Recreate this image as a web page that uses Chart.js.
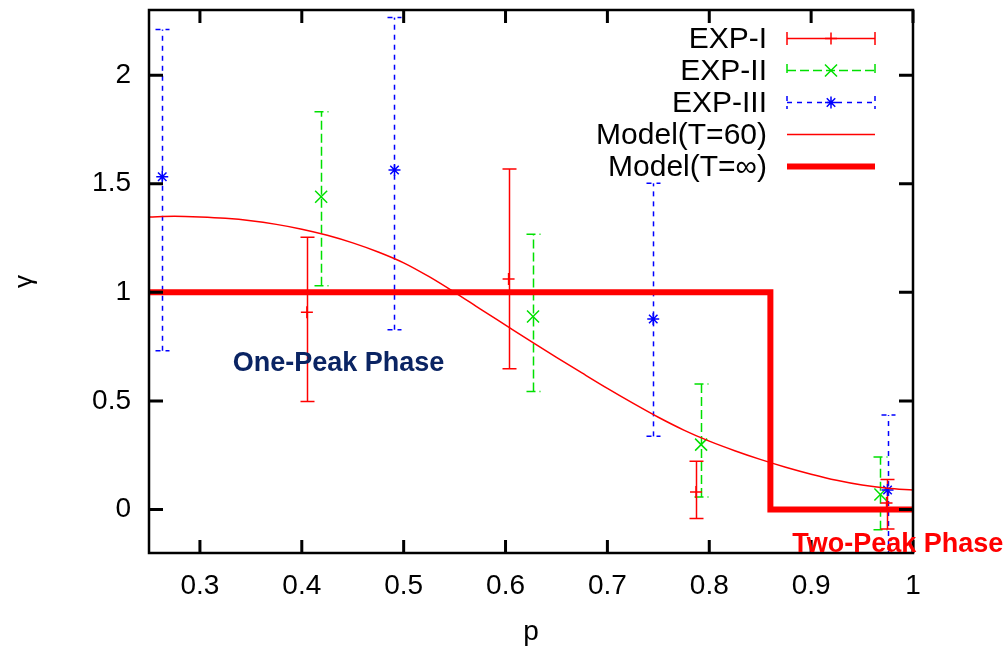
<!DOCTYPE html>
<html><head><meta charset="utf-8">
<script src="https://cdn.jsdelivr.net/npm/chart.js@4.4.0/dist/chart.umd.min.js"></script>
<style>html,body{margin:0;padding:0;background:#fff}#wrap{width:1003px;height:649px;position:relative}</style>
</head><body><div id="wrap"><canvas id="c" width="1003" height="649"></canvas></div>
<script>
// ---- data ----
const xTicks = [0.3, 0.4, 0.5, 0.6, 0.7, 0.8, 0.9, 1];
const yTicks = [0, 0.5, 1, 1.5, 2];

const exp1P  = [0.405, 0.603, 0.787, 0.974];
const exp1Y  = [0.909, 1.061, 0.081, 0.03];
const exp1Lo = [0.497, 0.648, -0.041, -0.09];
const exp1Hi = [1.254, 1.568, 0.222, 0.138];

const exp2P  = [0.419, 0.627, 0.792, 0.968];
const exp2Y  = [1.44, 0.889, 0.299, 0.069];
const exp2Lo = [1.03, 0.544, 0.058, -0.093];
const exp2Hi = [1.831, 1.268, 0.578, 0.242];

const exp3P  = [0.263, 0.491, 0.745, 0.975];
const exp3Y  = [1.532, 1.563, 0.877, 0.09];
const exp3Lo = [0.731, 0.828, 0.337, -0.26];
const exp3Hi = [2.21, 2.265, 1.502, 0.435];

const modelP   = [0.25,0.275,0.3,0.325,0.35,0.375,0.4,0.425,0.45,0.475,0.5,0.525,0.55,0.575,0.6,0.625,0.65,0.675,0.7,0.725,0.75,0.775,0.8,0.825,0.85,0.875,0.9,0.925,0.95,0.975,1.0];
const modelT60 = [1.347,1.350,1.347,1.341,1.330,1.313,1.291,1.263,1.228,1.186,1.136,1.072,1.000,0.924,0.849,0.774,0.701,0.629,0.558,0.490,0.425,0.366,0.315,0.271,0.231,0.195,0.163,0.135,0.113,0.098,0.090];

const stepP = [0.25, 0.86, 0.86, 1.0];
const stepY = [1, 1, 0, 0];

const seriesNames = ['EXP-I', 'EXP-II', 'EXP-III', 'Model(T=60)', 'Model(T=\u221E)'];
const phaseLabels = ['One-Peak Phase', 'Two-Peak Phase'];

const RED = '#ff0000', GREEN = '#00e000', BLUE = '#0000ff';
const zip = (a, b) => a.map((v, i) => ({x: v, y: b[i]}));

function drawMarker(ctx, style, x, y, r, color) {
  ctx.save();
  ctx.strokeStyle = color; ctx.lineWidth = 1.5; ctx.setLineDash([]);
  ctx.beginPath();
  if (style === 'cross' || style === 'star') {
    ctx.moveTo(x - r, y); ctx.lineTo(x + r, y);
    ctx.moveTo(x, y - r); ctx.lineTo(x, y + r);
  }
  if (style === 'crossRot' || style === 'star') {
    const d = r * Math.SQRT1_2;
    ctx.moveTo(x - d, y - d); ctx.lineTo(x + d, y + d);
    ctx.moveTo(x - d, y + d); ctx.lineTo(x + d, y - d);
  }
  ctx.stroke();
  ctx.restore();
}

const errorBarPlugin = {
  id: 'errorBars',
  beforeDatasetsDraw(chart) {
    const {ctx, chartArea: a, scales: {x, y}} = chart;
    ctx.save();
    ctx.beginPath(); ctx.rect(a.left, a.top, a.right - a.left, a.bottom - a.top); ctx.clip();
    chart.data.datasets.forEach(ds => {
      if (!ds.errLow) return;
      ctx.strokeStyle = ds.borderColor; ctx.lineWidth = 1.5;
      ctx.setLineDash(ds.errDash);
      ds.data.forEach((pt, i) => {
        const px = Math.round(x.getPixelForValue(pt.x)) + 0.5;
        const lo = y.getPixelForValue(ds.errLow[i]);
        const hi = y.getPixelForValue(ds.errHigh[i]);
        ctx.beginPath();
        ctx.moveTo(px, lo); ctx.lineTo(px, hi); ctx.stroke();
        ctx.beginPath();
        ctx.moveTo(px - 7, lo); ctx.lineTo(px + 7, lo);
        ctx.moveTo(px - 7, hi); ctx.lineTo(px + 7, hi); ctx.stroke();
      });
    });
    ctx.restore();
  }
};

const framePlugin = {
  id: 'frame',
  afterDraw(chart) {
    const {ctx, chartArea: a, scales: {x, y}} = chart;
    ctx.save();
    ctx.strokeStyle = '#000'; ctx.lineWidth = 2.5; ctx.setLineDash([]);
    ctx.strokeRect(a.left, a.top, a.right - a.left, a.bottom - a.top);
    ctx.lineWidth = 3;
    ctx.beginPath();
    yTicks.forEach(v => {
      const py = y.getPixelForValue(v);
      ctx.moveTo(a.left, py); ctx.lineTo(a.left + 14, py);
      ctx.moveTo(a.right, py); ctx.lineTo(a.right - 14, py);
    });
    xTicks.forEach(v => {
      const px = x.getPixelForValue(v);
      ctx.moveTo(px, a.bottom); ctx.lineTo(px, a.bottom - 13);
      ctx.moveTo(px, a.top); ctx.lineTo(px, a.top + 13);
    });
    ctx.stroke();

    // phase annotations
    ctx.font = 'bold 27px "Liberation Sans", Arial, sans-serif';
    ctx.textAlign = 'center'; ctx.textBaseline = 'middle';
    ctx.fillStyle = '#0a2463';
    ctx.fillText(phaseLabels[0], x.getPixelForValue(0.436), y.getPixelForValue(0.671));
    ctx.fillStyle = RED;
    ctx.fillText(phaseLabels[1], x.getPixelForValue(0.985), y.getPixelForValue(-0.161));

    // legend
    const tx = 767, l0 = 787, l1 = 875, mid = 831;
    ctx.font = '30px "Liberation Sans", Arial, sans-serif';
    ctx.textAlign = 'right'; ctx.fillStyle = '#000';
    const samples = [
      {c: RED, dash: [], marker: 'cross', r: 6, caps: true, w: 1.5},
      {c: GREEN, dash: [9, 4], marker: 'crossRot', r: 8.5, caps: true, w: 1.5},
      {c: BLUE, dash: [5, 5], marker: 'star', r: 6, caps: true, w: 1.5},
      {c: RED, dash: [], marker: null, caps: false, w: 1.5},
      {c: RED, dash: [], marker: null, caps: false, w: 6}
    ];
    seriesNames.forEach((name, i) => {
      const ry = 38.5 + i * 32;
      ctx.fillText(name, tx, ry + 1);
      const s = samples[i];
      ctx.save();
      ctx.strokeStyle = s.c; ctx.lineWidth = s.w; ctx.setLineDash(s.dash);
      ctx.beginPath(); ctx.moveTo(l0, ry); ctx.lineTo(l1, ry); ctx.stroke();
      if (s.caps) {
        ctx.beginPath();
        ctx.moveTo(l0, ry - 6.5); ctx.lineTo(l0, ry + 6.5);
        ctx.moveTo(l1, ry - 6.5); ctx.lineTo(l1, ry + 6.5);
        ctx.stroke();
      }
      ctx.restore();
      if (s.marker) drawMarker(ctx, s.marker, mid, ry, s.r, s.c);
    });
    ctx.restore();
  }
};

const tickFont = {family: '"Liberation Sans", Arial, sans-serif', size: 28};

new Chart(document.getElementById('c'), {
  type: 'scatter',
  data: {
    datasets: [
      {label: seriesNames[4], data: zip(stepP, stepY), showLine: true, borderColor: RED, borderWidth: 6,
       pointRadius: 0, fill: false, borderJoinStyle: 'miter', borderCapStyle: 'butt'},
      {label: seriesNames[3], data: zip(modelP, modelT60), showLine: true, borderColor: RED, borderWidth: 1.5,
       pointRadius: 0, fill: false, cubicInterpolationMode: 'monotone'},
      {label: seriesNames[2], data: zip(exp3P, exp3Y), borderColor: BLUE, backgroundColor: BLUE,
       pointStyle: 'star', pointRadius: 6, pointBorderWidth: 1.5, errLow: exp3Lo, errHigh: exp3Hi, errDash: [5, 5]},
      {label: seriesNames[1], data: zip(exp2P, exp2Y), borderColor: GREEN, backgroundColor: GREEN,
       pointStyle: 'crossRot', pointRadius: 8.5, pointBorderWidth: 1.5, errLow: exp2Lo, errHigh: exp2Hi, errDash: [9, 4]},
      {label: seriesNames[0], data: zip(exp1P, exp1Y), borderColor: RED, backgroundColor: RED,
       pointStyle: 'cross', pointRadius: 6, pointBorderWidth: 1.5, errLow: exp1Lo, errHigh: exp1Hi, errDash: []}
    ]
  },
  options: {
    responsive: false, animation: false, devicePixelRatio: 1,
    layout: {padding: {left: 0, top: 9, right: 90, bottom: 0}},
    plugins: {legend: {display: false}, tooltip: {enabled: false}},
    scales: {
      x: {
        type: 'linear', min: 0.25, max: 1,
        afterBuildTicks: s => { s.ticks = xTicks.map(v => ({value: v})); },
        afterFit: s => { s.height = 96; s.paddingLeft = 0; s.paddingRight = 0; },
        grid: {display: false, drawTicks: false},
        border: {display: false},
        ticks: {font: tickFont, color: '#000', padding: 16, maxRotation: 0, autoSkip: false,
                callback: v => String(v)},
        title: {display: true, text: 'p', font: {family: tickFont.family, size: 28}, color: '#000', padding: {top: 0, bottom: 0}}
      },
      y: {
        type: 'linear', min: -0.2, max: 2.3,
        afterBuildTicks: s => { s.ticks = yTicks.map(v => ({value: v})); },
        afterFit: s => { s.width = 149; s.paddingTop = 0; s.paddingBottom = 0; },
        grid: {display: false, drawTicks: false},
        border: {display: false},
        ticks: {font: tickFont, color: '#000', padding: 18, autoSkip: false, callback: v => String(v)},
        title: {display: true, text: '\u03B3', font: {family: tickFont.family, size: 26}, color: '#000', padding: {top: 9, bottom: 0}}
      }
    }
  },
  plugins: [errorBarPlugin, framePlugin]
});
</script></body></html>
